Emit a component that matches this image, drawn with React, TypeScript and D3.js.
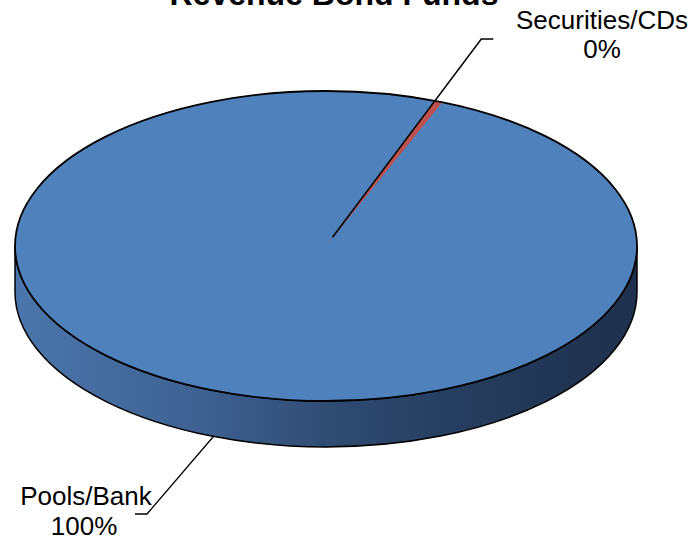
import React from "react";
import * as d3 from "d3";

const categories = ["Securities/CDs", "Pools/Bank"];
const values = [0.4, 99.6];
const pctLabels = ["0%", "100%"];
const colors = ["#c0504d", "#4f81bd"];
const title = "Revenue Bond Funds";

const W = 696;
const H = 544;
const cx = 326;
const cy = 246;
const rx = 311;
const ry = 155;
const depth = 46;
const startDeg = 20.5;

function pt(a: number, dy = 0, f = 1): [number, number] {
  return [cx + f * rx * Math.sin(a), cy - f * ry * Math.cos(a) + dy];
}

export default function App() {
  const pie = d3
    .pie<number>()
    .sort(null)
    .startAngle((startDeg * Math.PI) / 180)
    .endAngle((startDeg * Math.PI) / 180 + 2 * Math.PI);
  const arcs = pie(values);

  const slicePath = (a0: number, a1: number) => {
    const p0 = pt(a0);
    const p1 = pt(a1);
    const large = a1 - a0 > Math.PI ? 1 : 0;
    return `M${cx},${cy}L${p0[0]},${p0[1]}A${rx},${ry} 0 ${large} 1 ${p1[0]},${p1[1]}Z`;
  };

  const r0 = pt(Math.PI / 2);
  const l0 = pt((3 * Math.PI) / 2);
  const sidePath =
    `M${r0[0]},${r0[1]}A${rx},${ry} 0 0 1 ${l0[0]},${l0[1]}` +
    `L${l0[0]},${l0[1] + depth}A${rx},${ry} 0 0 0 ${r0[0]},${r0[1] + depth}Z`;

  const big = arcs[1];
  const small = arcs[0];

  // leader line for the thin slice runs along its leading edge
  const secStart = pt(small.startAngle, 0, 0.06);
  const edge = pt(small.startAngle);
  const elbowY = 39;
  const tElb = (cy - elbowY) / (cy - edge[1]);
  const secElbow: [number, number] = [cx + (edge[0] - cx) * tElb, elbowY];
  const secEnd: [number, number] = [secElbow[0] + 12, elbowY];

  const poolMid = (big.startAngle + big.endAngle) / 2;
  const poolStart = pt(poolMid, depth);
  const poolElbow: [number, number] = [147, 514];
  const poolEnd: [number, number] = [135, 514];

  const font = "Arial, 'Liberation Sans', sans-serif";

  return (
    <svg
      width={W}
      height={H}
      style={{ position: "absolute", left: 0, top: 0, background: "#fff" }}
    >
      <defs>
        <linearGradient id="sideGrad" x1="0" x2="1" y1="0" y2="0">
          <stop offset="0%" stopColor="#4b76ab" />
          <stop offset="30%" stopColor="#3e6192" />
          <stop offset="50%" stopColor="#304c73" />
          <stop offset="70%" stopColor="#263e60" />
          <stop offset="100%" stopColor="#1e304c" />
        </linearGradient>
      </defs>
      <text
        x={334}
        y={5}
        textAnchor="middle"
        fontFamily={font}
        fontWeight="bold"
        fontSize={32}
        fill="#000"
      >
        {title}
      </text>
      <path d={sidePath} fill="url(#sideGrad)" stroke="#000" strokeWidth={1.5} />
      <ellipse cx={cx} cy={cy} rx={rx} ry={ry} fill={colors[1]} />
      <path
        d={slicePath(small.startAngle, small.endAngle)}
        fill={colors[0]}
        stroke="none"
      />
      <ellipse
        cx={cx}
        cy={cy}
        rx={rx}
        ry={ry}
        fill="none"
        stroke="#000"
        strokeWidth={1.8}
      />
      <polyline
        points={[secStart, secElbow, secEnd].map((p) => p.join(",")).join(" ")}
        fill="none"
        stroke="#000"
        strokeWidth={1.5}
      />
      <polyline
        points={[poolStart, poolElbow, poolEnd].map((p) => p.join(",")).join(" ")}
        fill="none"
        stroke="#000"
        strokeWidth={1.3}
      />
      <text x={602} y={29} textAnchor="middle" fontFamily={font} fontSize={26} fill="#000">
        {categories[0]}
      </text>
      <text x={602} y={58} textAnchor="middle" fontFamily={font} fontSize={26} fill="#000">
        {pctLabels[0]}
      </text>
      <text x={86} y={505} textAnchor="middle" fontFamily={font} fontSize={26} fill="#000">
        {categories[1]}
      </text>
      <text x={84} y={535} textAnchor="middle" fontFamily={font} fontSize={26} fill="#000">
        {pctLabels[1]}
      </text>
    </svg>
  );
}
